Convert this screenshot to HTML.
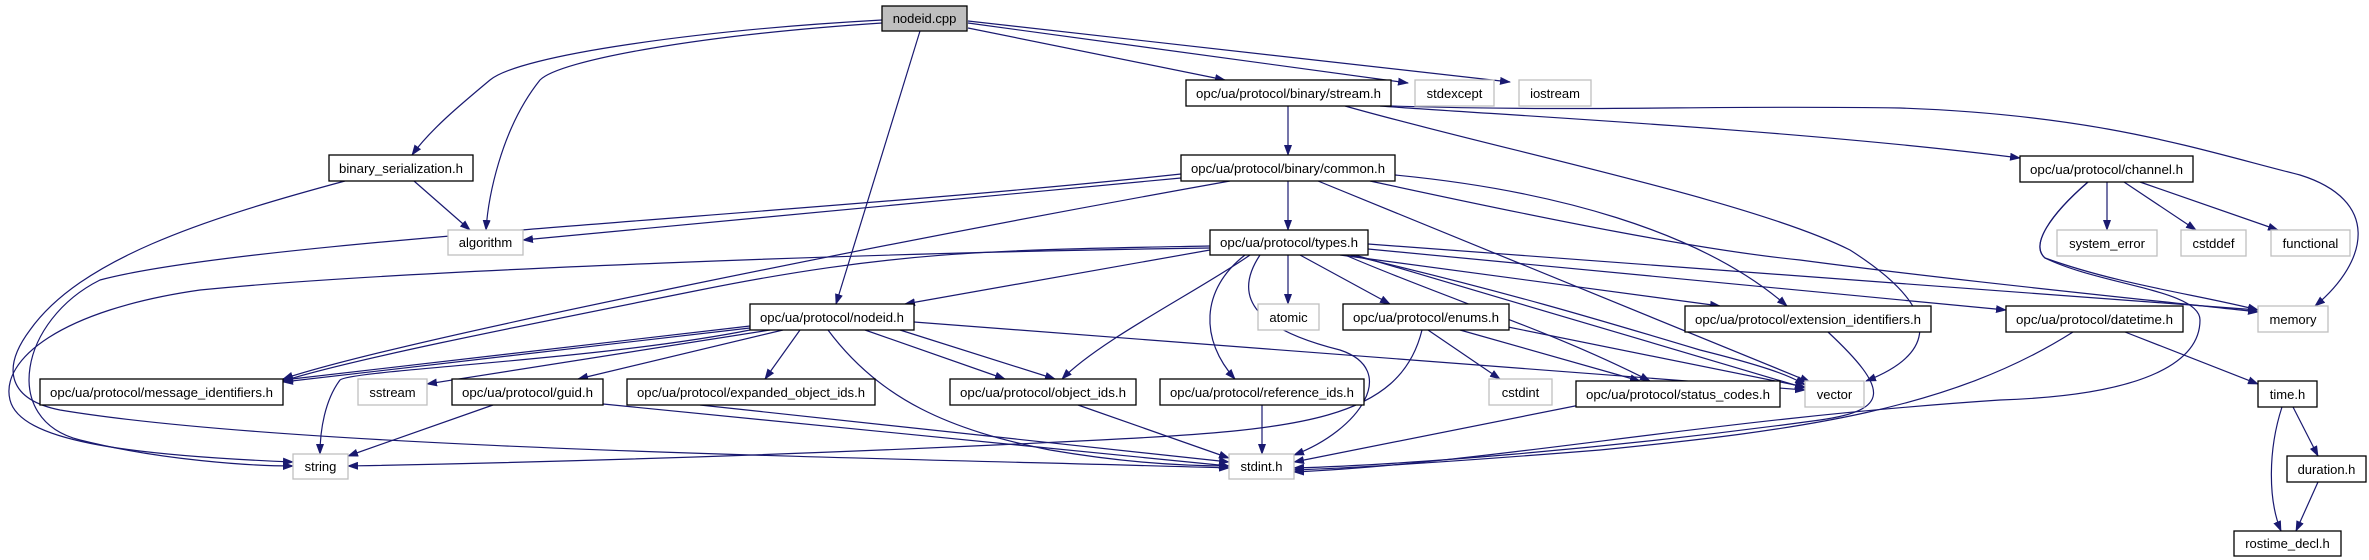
<!DOCTYPE html>
<html><head><meta charset="utf-8"><style>
html,body{margin:0;padding:0;background:#fff;}
svg{display:block;}
text{font-family:"Liberation Sans",sans-serif;font-size:13px;fill:#000;}
.e{fill:none;stroke:#191970;stroke-width:1.2;}
.b{fill:#fff;stroke:#000;stroke-width:1.3;}
.g{fill:#fff;stroke:#bfbfbf;stroke-width:1.3;}
</style></head><body>
<svg width="2369" height="560" viewBox="0 0 2369 560" xmlns="http://www.w3.org/2000/svg">
<defs><marker id="a" markerWidth="11" markerHeight="8" refX="10" refY="4" orient="auto" markerUnits="userSpaceOnUse"><path d="M0,0 L11,4 L0,8 z" fill="#191970"/></marker></defs>
<g marker-end="url(#a)">
<!-- nodeid.cpp -->
<path class="e" d="M882,20 C700,30 520,55 490,80 C460,105 430,130 412,155"/>
<path class="e" d="M882,23 C700,35 560,60 540,80 C500,130 488,200 486,230"/>
<path class="e" d="M920,31 L836,304"/>
<path class="e" d="M968,28 L1225,80"/>
<path class="e" d="M968,23 L1408,83"/>
<path class="e" d="M968,21 L1510,82"/>
<!-- stream.h -->
<path class="e" d="M1288,106 L1288,155"/>
<path class="e" d="M1380,106 C1500,115 1800,130 2020,158"/>
<path class="e" d="M1391,106 C1600,112 1700,105 1900,108 C2100,115 2200,150 2300,175 C2380,200 2370,260 2315,306"/>
<path class="e" d="M1345,106 C1500,150 1750,200 1850,250 C1960,320 1920,360 1866,381"/>
<!-- common.h -->
<path class="e" d="M1288,181 L1288,230"/>
<path class="e" d="M1181,178 L523,240"/>
<path class="e" d="M1230,181 C900,240 400,340 283,379"/>
<path class="e" d="M1181,174 C800,215 250,240 100,280 C20,320 0,420 80,440 C160,460 250,466 293,466"/>
<path class="e" d="M1318,181 L1810,382"/>
<path class="e" d="M1395,175 C1550,190 1700,230 1787,306"/>
<path class="e" d="M1370,181 C1550,220 1700,250 1800,260 C1950,280 2150,300 2258,312"/>
<!-- types.h -->
<path class="e" d="M1210,250 L905,304"/>
<path class="e" d="M1210,246 C1000,250 900,250 700,290 C500,330 350,360 283,381"/>
<path class="e" d="M1210,248 C900,252 400,270 200,290 C60,310 0,360 10,400 C20,440 120,455 293,462"/>
<path class="e" d="M1250,255 C1200,290 1100,340 1062,379"/>
<path class="e" d="M1245,255 C1200,290 1200,340 1235,379"/>
<path class="e" d="M1260,255 C1230,300 1260,330 1340,350 C1400,370 1360,430 1294,455"/>
<path class="e" d="M1288,255 L1288,304"/>
<path class="e" d="M1300,255 L1390,304"/>
<path class="e" d="M1340,255 L1720,306"/>
<path class="e" d="M1368,249 L2006,310"/>
<path class="e" d="M1368,244 L2258,310"/>
<path class="e" d="M1345,255 C1450,300 1550,330 1650,381"/>
<path class="e" d="M1350,255 C1500,290 1600,320 1700,350 C1760,365 1790,375 1805,385"/>
<path class="e" d="M1355,255 L1805,388"/>
<!-- nodeid.h -->
<path class="e" d="M750,326 L283,380"/>
<path class="e" d="M750,328 L283,382"/>
<path class="e" d="M770,330 L427,384"/>
<path class="e" d="M750,330 C600,360 350,370 340,380 C325,400 320,430 320,454"/>
<path class="e" d="M783,330 L578,379"/>
<path class="e" d="M800,330 L765,379"/>
<path class="e" d="M865,330 L1005,379"/>
<path class="e" d="M900,330 L1055,379"/>
<path class="e" d="M828,330 C880,400 950,430 1050,450 C1120,462 1180,466 1229,466"/>
<path class="e" d="M914,322 L1805,390"/>
<!-- guid -->
<path class="e" d="M493,405 L348,456"/>
<path class="e" d="M603,404 L1229,466"/>
<!-- binary_serialization -->
<path class="e" d="M414,181 L470,230"/>
<path class="e" d="M345,181 C200,220 80,260 30,330 C0,370 10,400 60,410 C300,450 900,458 1229,468"/>
<!-- expanded, object, reference -->
<path class="e" d="M700,405 L1229,462"/>
<path class="e" d="M1078,405 L1229,458"/>
<path class="e" d="M1262,405 L1262,454"/>
<!-- enums -->
<path class="e" d="M1422,330 C1400,420 1300,430 1100,440 C700,460 400,465 348,466"/>
<path class="e" d="M1428,330 L1500,379"/>
<path class="e" d="M1460,330 L1640,381"/>
<path class="e" d="M1508,327 L1805,387"/>
<!-- status, ext, datetime -->
<path class="e" d="M1580,405 L1294,462"/>
<path class="e" d="M1828,332 C1890,390 1890,410 1820,420 C1600,450 1400,465 1294,468"/>
<path class="e" d="M2073,332 C1950,410 1800,430 1600,450 C1450,462 1350,468 1294,470"/>
<path class="e" d="M2125,332 L2258,384"/>
<!-- channel -->
<path class="e" d="M2107,182 L2107,230"/>
<path class="e" d="M2124,182 L2196,230"/>
<path class="e" d="M2140,182 L2278,230"/>
<path class="e" d="M2088,182 C2050,215 2030,245 2045,258 C2100,285 2200,290 2200,320 C2200,360 2150,395 2000,400 C1700,420 1500,462 1294,472"/>
<path class="e" d="M2088,182 C2050,215 2030,245 2045,258 C2120,285 2200,295 2258,310"/>
<!-- time -->
<path class="e" d="M2293,407 L2318,456"/>
<path class="e" d="M2282,407 C2268,450 2268,500 2281,531"/>
<path class="e" d="M2318,482 L2296,531"/>
</g>
<!-- nodes -->
<g>
<rect x="882" y="6" width="85" height="25" fill="#bfbfbf" stroke="#000" stroke-width="1.3"/><text x="924.5" y="23" text-anchor="middle">nodeid.cpp</text>
<rect class="b" x="1186" y="80" width="205" height="26"/><text x="1288.5" y="98" text-anchor="middle" textLength="185" lengthAdjust="spacingAndGlyphs">opc/ua/protocol/binary/stream.h</text>
<rect class="g" x="1415" y="80" width="79" height="26"/><text x="1454.5" y="98" text-anchor="middle">stdexcept</text>
<rect class="g" x="1519" y="80" width="72" height="26"/><text x="1555" y="98" text-anchor="middle">iostream</text>
<rect class="b" x="329" y="155" width="144" height="26"/><text x="401" y="173" text-anchor="middle" textLength="124" lengthAdjust="spacingAndGlyphs">binary_serialization.h</text>
<rect class="b" x="1181" y="155" width="214" height="26"/><text x="1288" y="173" text-anchor="middle" textLength="194" lengthAdjust="spacingAndGlyphs">opc/ua/protocol/binary/common.h</text>
<rect class="b" x="2020" y="156" width="173" height="26"/><text x="2106.5" y="174" text-anchor="middle" textLength="153" lengthAdjust="spacingAndGlyphs">opc/ua/protocol/channel.h</text>
<rect class="g" x="448" y="230" width="75" height="25"/><text x="485.5" y="247" text-anchor="middle">algorithm</text>
<rect class="b" x="1210" y="230" width="158" height="25"/><text x="1289" y="247" text-anchor="middle" textLength="138" lengthAdjust="spacingAndGlyphs">opc/ua/protocol/types.h</text>
<rect class="g" x="2057" y="230" width="100" height="26"/><text x="2107" y="248" text-anchor="middle">system_error</text>
<rect class="g" x="2181" y="230" width="65" height="26"/><text x="2213.5" y="248" text-anchor="middle">cstddef</text>
<rect class="g" x="2271" y="230" width="79" height="26"/><text x="2310.5" y="248" text-anchor="middle">functional</text>
<rect class="b" x="750" y="304" width="164" height="26"/><text x="832" y="322" text-anchor="middle" textLength="144" lengthAdjust="spacingAndGlyphs">opc/ua/protocol/nodeid.h</text>
<rect class="g" x="1258" y="304" width="61" height="26"/><text x="1288.5" y="322" text-anchor="middle">atomic</text>
<rect class="b" x="1343" y="304" width="166" height="26"/><text x="1426" y="322" text-anchor="middle" textLength="146" lengthAdjust="spacingAndGlyphs">opc/ua/protocol/enums.h</text>
<rect class="b" x="1685" y="306" width="246" height="26"/><text x="1808" y="324" text-anchor="middle" textLength="226" lengthAdjust="spacingAndGlyphs">opc/ua/protocol/extension_identifiers.h</text>
<rect class="b" x="2006" y="306" width="177" height="26"/><text x="2094.5" y="324" text-anchor="middle" textLength="157" lengthAdjust="spacingAndGlyphs">opc/ua/protocol/datetime.h</text>
<rect class="g" x="2258" y="306" width="70" height="26"/><text x="2293" y="324" text-anchor="middle">memory</text>
<rect class="b" x="40" y="379" width="243" height="26"/><text x="161.5" y="397" text-anchor="middle" textLength="223" lengthAdjust="spacingAndGlyphs">opc/ua/protocol/message_identifiers.h</text>
<rect class="g" x="358" y="379" width="69" height="26"/><text x="392.5" y="397" text-anchor="middle">sstream</text>
<rect class="b" x="452" y="379" width="151" height="26"/><text x="527.5" y="397" text-anchor="middle" textLength="131" lengthAdjust="spacingAndGlyphs">opc/ua/protocol/guid.h</text>
<rect class="b" x="627" y="379" width="248" height="26"/><text x="751" y="397" text-anchor="middle" textLength="228" lengthAdjust="spacingAndGlyphs">opc/ua/protocol/expanded_object_ids.h</text>
<rect class="b" x="950" y="379" width="186" height="26"/><text x="1043" y="397" text-anchor="middle" textLength="166" lengthAdjust="spacingAndGlyphs">opc/ua/protocol/object_ids.h</text>
<rect class="b" x="1160" y="379" width="204" height="26"/><text x="1262" y="397" text-anchor="middle" textLength="184" lengthAdjust="spacingAndGlyphs">opc/ua/protocol/reference_ids.h</text>
<rect class="g" x="1489" y="379" width="63" height="26"/><text x="1520.5" y="397" text-anchor="middle">cstdint</text>
<rect class="b" x="1576" y="381" width="204" height="26"/><text x="1678" y="399" text-anchor="middle" textLength="184" lengthAdjust="spacingAndGlyphs">opc/ua/protocol/status_codes.h</text>
<rect class="g" x="1805" y="381" width="59" height="26"/><text x="1834.5" y="399" text-anchor="middle">vector</text>
<rect class="b" x="2258" y="381" width="59" height="26"/><text x="2287.5" y="399" text-anchor="middle">time.h</text>
<rect class="g" x="293" y="454" width="55" height="25"/><text x="320.5" y="471" text-anchor="middle">string</text>
<rect class="g" x="1229" y="454" width="65" height="25"/><text x="1261.5" y="471" text-anchor="middle">stdint.h</text>
<rect class="b" x="2287" y="456" width="79" height="26"/><text x="2326.5" y="474" text-anchor="middle">duration.h</text>
<rect class="b" x="2234" y="531" width="107" height="25"/><text x="2287.5" y="548" text-anchor="middle">rostime_decl.h</text>
</g>
</svg>
</body></html>
